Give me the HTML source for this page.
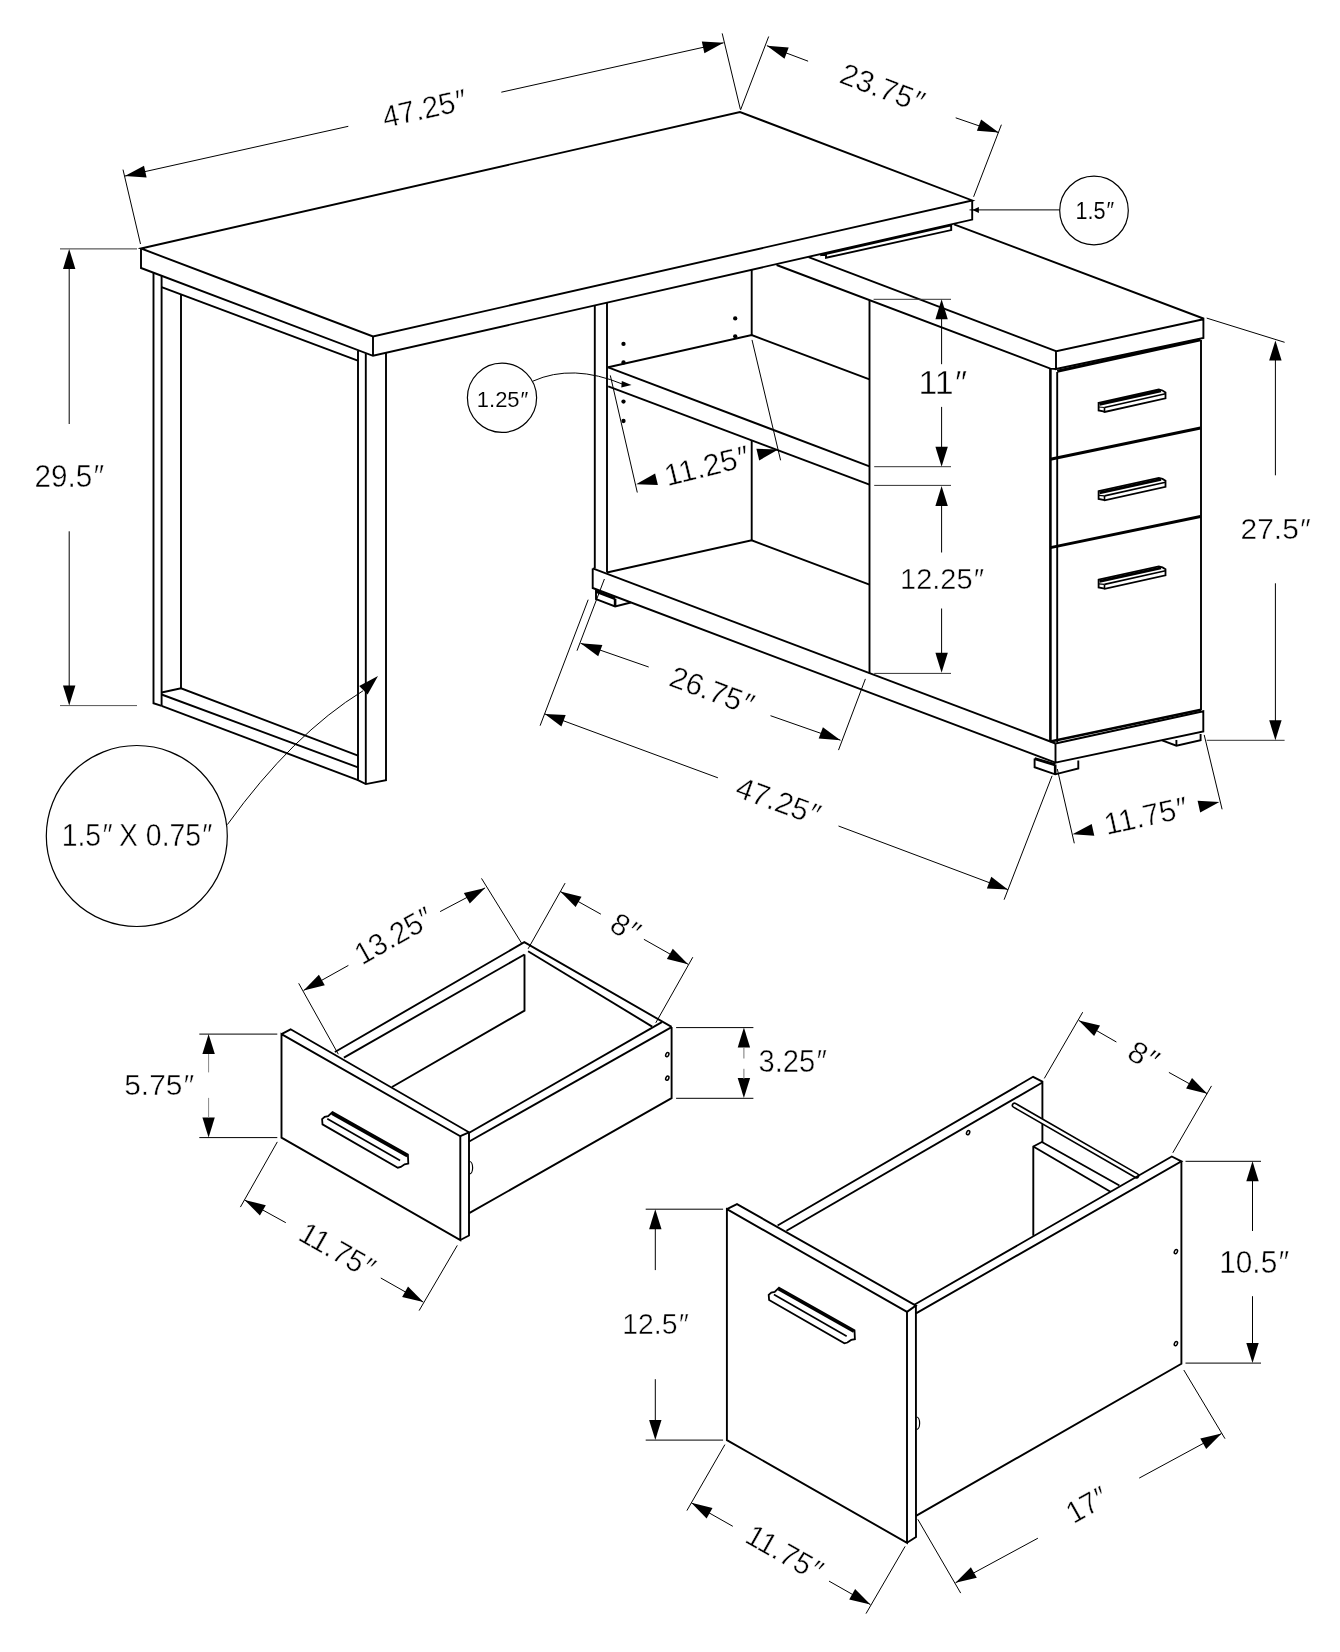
<!DOCTYPE html>
<html><head><meta charset="utf-8"><title>L-shaped desk dimensions</title>
<style>
html,body{margin:0;padding:0;background:#fff;}
body{width:1340px;height:1652px;overflow:hidden;}
svg{display:block;filter:grayscale(1);}
text{font-family:"Liberation Sans",sans-serif;fill:#000;stroke:#fff;stroke-width:0.45px;}
text.sm{stroke-width:0.1px;}
</style></head>
<body>
<svg width="1340" height="1652" viewBox="0 0 1340 1652">
<rect width="1340" height="1652" fill="#fff"/>
<polygon points="141,248.5 740,112 972.2,200.4 373,336.5" fill="none" stroke="#000" stroke-width="1.9" stroke-linejoin="miter"/>
<polyline points="141,248.5 141,268 373,355.8 972.2,219.6 972.2,200.4" fill="none" stroke="#000" stroke-width="1.9" stroke-linecap="butt" stroke-linejoin="miter"/>
<polyline points="373,336.5 373,355.8" fill="none" stroke="#000" stroke-width="1.9" stroke-linecap="butt" stroke-linejoin="miter"/>
<polyline points="153.5,272.7 153.5,703.2 161.6,705.8" fill="none" stroke="#000" stroke-width="1.9" stroke-linecap="butt" stroke-linejoin="miter"/>
<polyline points="161.6,275.8 161.6,705.8" fill="none" stroke="#000" stroke-width="1.9" stroke-linecap="butt" stroke-linejoin="miter"/>
<polyline points="181,294.3 181,688.3" fill="none" stroke="#000" stroke-width="1.9" stroke-linecap="butt" stroke-linejoin="miter"/>
<polyline points="161.6,287.2 357.8,360.6" fill="none" stroke="#000" stroke-width="1.9" stroke-linecap="butt" stroke-linejoin="miter"/>
<polyline points="358,351 358,780.2 365.8,784.1 386,780.2 386,352.8" fill="none" stroke="#000" stroke-width="1.9" stroke-linecap="butt" stroke-linejoin="miter"/>
<polyline points="365.8,353.5 365.8,784.1" fill="none" stroke="#000" stroke-width="1.9" stroke-linecap="butt" stroke-linejoin="miter"/>
<polyline points="161.6,692.5 181,688.3 358,755.6" fill="none" stroke="#000" stroke-width="1.9" stroke-linecap="butt" stroke-linejoin="miter"/>
<polyline points="161.6,694.5 358,767.4" fill="none" stroke="#000" stroke-width="1.9" stroke-linecap="butt" stroke-linejoin="miter"/>
<polyline points="161.6,705.8 358,780.2" fill="none" stroke="#000" stroke-width="1.9" stroke-linecap="butt" stroke-linejoin="miter"/>
<polyline points="60,248.9 137,248.9" fill="none" stroke="#333" stroke-width="1.0" stroke-linecap="butt" stroke-linejoin="miter"/>
<polyline points="60,705.6 137,705.6" fill="none" stroke="#555" stroke-width="1.0" stroke-linecap="butt" stroke-linejoin="miter"/>
<polyline points="69.2,266 69.2,424" fill="none" stroke="#000" stroke-width="1.0" stroke-linecap="butt" stroke-linejoin="miter"/>
<polygon points="69.2,248.9 75.4,268.9 63,268.9" fill="#000"/>
<polyline points="69.2,531.3 69.2,688" fill="none" stroke="#000" stroke-width="1.0" stroke-linecap="butt" stroke-linejoin="miter"/>
<polygon points="69.2,705.5 63,685.5 75.4,685.5" fill="#000"/>
<text x="68.7" y="487.4" font-size="31" text-anchor="middle" textLength="68.2" lengthAdjust="spacingAndGlyphs">29.5<tspan font-style="italic">″</tspan></text>
<polyline points="124.8,176.1 348.3,126.3" fill="none" stroke="#000" stroke-width="1.0" stroke-linecap="butt" stroke-linejoin="miter"/>
<polyline points="501.3,92.2 723.6,42.8" fill="none" stroke="#000" stroke-width="1.0" stroke-linecap="butt" stroke-linejoin="miter"/>
<polygon points="124.8,176.1 144,165.7 146.6,177.4" fill="#000"/>
<polygon points="723.6,42.8 704.4,53.2 701.8,41.5" fill="#000"/>
<polyline points="123,169.6 140.5,244" fill="none" stroke="#000" stroke-width="1.0" stroke-linecap="butt" stroke-linejoin="miter"/>
<polyline points="722.2,33.4 740.3,109" fill="none" stroke="#000" stroke-width="1.0" stroke-linecap="butt" stroke-linejoin="miter"/>
<text x="423.8" y="119" font-size="30.5" text-anchor="middle" textLength="84.3" lengthAdjust="spacingAndGlyphs" transform="rotate(-12.6 423.8 108.5)">47.25<tspan font-style="italic">″</tspan></text>
<polyline points="766.9,45.7 808.1,61.2" fill="none" stroke="#000" stroke-width="1.0" stroke-linecap="butt" stroke-linejoin="miter"/>
<polyline points="955.7,117.8 998.7,132.6" fill="none" stroke="#000" stroke-width="1.0" stroke-linecap="butt" stroke-linejoin="miter"/>
<polygon points="766.9,45.7 788.7,47.5 784.5,58.7" fill="#000"/>
<polygon points="998.7,132.6 976.9,130.8 981.1,119.6" fill="#000"/>
<polyline points="768.7,36.5 740.5,110" fill="none" stroke="#000" stroke-width="1.0" stroke-linecap="butt" stroke-linejoin="miter"/>
<polyline points="1001.4,124.7 973.6,196.8" fill="none" stroke="#000" stroke-width="1.0" stroke-linecap="butt" stroke-linejoin="miter"/>
<text x="882" y="98.2" font-size="30.5" text-anchor="middle" textLength="86.1" lengthAdjust="spacingAndGlyphs" transform="rotate(20.6 882 87.7)">23.75<tspan font-style="italic">″</tspan></text>
<circle cx="1094" cy="210.5" r="34.3" fill="none" stroke="#000" stroke-width="1.2"/>
<polyline points="1059.8,209.9 969.5,209.9" fill="none" stroke="#000" stroke-width="1.0" stroke-linecap="butt" stroke-linejoin="miter"/>
<polygon points="972.4,209.9 978.9,206.9 978.9,212.9" fill="#000"/>
<text class="sm" x="1094.3" y="219.1" font-size="24" text-anchor="middle" textLength="37.8" lengthAdjust="spacingAndGlyphs">1.5<tspan font-style="italic">″</tspan></text>
<circle cx="136.8" cy="836" r="90.5" fill="none" stroke="#000" stroke-width="1.2"/>
<text x="136.4" y="846" font-size="32" text-anchor="middle" textLength="149.4" lengthAdjust="spacingAndGlyphs">1.5<tspan font-style="italic">″</tspan> X 0.75<tspan font-style="italic">″</tspan></text>
<path d="M227.4,824.6 Q292.7,734.1 363,690.8" fill="none" stroke="#000" stroke-width="1.0"/>
<polygon points="378,675.9 367.6,694.5 359.2,686" fill="#000"/>
<polyline points="954,224.3 1203.4,318.5 1203.4,338 1056,369 1056,351.2 1203.4,319.2" fill="none" stroke="#000" stroke-width="1.9" stroke-linecap="butt" stroke-linejoin="miter"/>
<polyline points="808.6,257.2 1056,351.2" fill="none" stroke="#000" stroke-width="1.9" stroke-linecap="butt" stroke-linejoin="miter"/>
<polyline points="776.6,265 1050.4,368.6 1056,369" fill="none" stroke="#000" stroke-width="1.9" stroke-linecap="butt" stroke-linejoin="miter"/>
<polyline points="820.2,255.3 951.2,225.2 951.2,230.1 826,257.8 826,254.5" fill="none" stroke="#000" stroke-width="1.9" stroke-linecap="butt" stroke-linejoin="miter"/>
<polyline points="594.8,305.3 594.8,568.4" fill="none" stroke="#000" stroke-width="1.9" stroke-linecap="butt" stroke-linejoin="miter"/>
<polyline points="607,302.5 607,572.5" fill="none" stroke="#000" stroke-width="1.9" stroke-linecap="butt" stroke-linejoin="miter"/>
<polyline points="751.7,270 751.7,335.1" fill="none" stroke="#000" stroke-width="1.9" stroke-linecap="butt" stroke-linejoin="miter"/>
<polyline points="751.7,440 751.7,540.3" fill="none" stroke="#000" stroke-width="1.9" stroke-linecap="butt" stroke-linejoin="miter"/>
<polyline points="608.2,367.3 751.7,335.1 869.5,379.3" fill="none" stroke="#000" stroke-width="1.9" stroke-linecap="butt" stroke-linejoin="miter"/>
<polyline points="608.2,367.3 869.5,466.4" fill="none" stroke="#000" stroke-width="1.9" stroke-linecap="butt" stroke-linejoin="miter"/>
<polyline points="608.2,386.4 869.5,484.7" fill="none" stroke="#000" stroke-width="1.9" stroke-linecap="butt" stroke-linejoin="miter"/>
<polyline points="607,572.5 751.7,540.3 869.5,584.6" fill="none" stroke="#000" stroke-width="1.9" stroke-linecap="butt" stroke-linejoin="miter"/>
<polyline points="869.5,300.2 869.5,673.4" fill="none" stroke="#000" stroke-width="1.9" stroke-linecap="butt" stroke-linejoin="miter"/>
<polyline points="592.7,568.4 1055.5,743.5" fill="none" stroke="#000" stroke-width="1.9" stroke-linecap="butt" stroke-linejoin="miter"/>
<polyline points="592.7,568.4 592.7,588 1055.5,762.7" fill="none" stroke="#000" stroke-width="1.9" stroke-linecap="butt" stroke-linejoin="miter"/>
<polyline points="596,589.3 596,599.2 615.1,606.5 630.8,602.5" fill="none" stroke="#000" stroke-width="1.9" stroke-linecap="butt" stroke-linejoin="miter"/>
<polyline points="615.1,598.6 615.1,606.5" fill="none" stroke="#000" stroke-width="2.6" stroke-linecap="butt" stroke-linejoin="miter"/>
<polyline points="596,591.3 615.1,598.6" fill="none" stroke="#000" stroke-width="3" stroke-linecap="butt" stroke-linejoin="miter"/>
<circle cx="623.5" cy="343.9" r="2.15" fill="#000"/>
<circle cx="623.5" cy="362.5" r="2.15" fill="#000"/>
<circle cx="735.2" cy="318.4" r="2.15" fill="#000"/>
<circle cx="735.2" cy="336.3" r="2.15" fill="#000"/>
<circle cx="623.5" cy="401.6" r="2.15" fill="#000"/>
<circle cx="623.5" cy="421" r="2.15" fill="#000"/>
<polyline points="1050.4,369 1050.4,741.8" fill="none" stroke="#000" stroke-width="2.6" stroke-linecap="butt" stroke-linejoin="miter"/>
<polyline points="1057.2,372 1057.2,742" fill="none" stroke="#000" stroke-width="1.9" stroke-linecap="butt" stroke-linejoin="miter"/>
<polyline points="1201,340 1201,710" fill="none" stroke="#000" stroke-width="1.9" stroke-linecap="butt" stroke-linejoin="miter"/>
<polyline points="1057.2,371.3 1200.5,339.8" fill="none" stroke="#000" stroke-width="3" stroke-linecap="butt" stroke-linejoin="miter"/>
<polyline points="1050.4,459.3 1200.5,428" fill="none" stroke="#000" stroke-width="3" stroke-linecap="butt" stroke-linejoin="miter"/>
<polyline points="1050.4,547.6 1200.5,516.5" fill="none" stroke="#000" stroke-width="3" stroke-linecap="butt" stroke-linejoin="miter"/>
<polyline points="1050.4,741.6 1201,709.8" fill="none" stroke="#000" stroke-width="2.6" stroke-linecap="butt" stroke-linejoin="miter"/>
<polyline points="1055.5,743.5 1203.3,711.3 1203.3,731.5 1055.5,762.7 1055.5,743.5" fill="none" stroke="#000" stroke-width="1.9" stroke-linecap="butt" stroke-linejoin="miter"/>
<polyline points="1034.6,758.4 1034.6,767.2 1055.2,774.3 1078.3,768.5 1078.3,760.5" fill="none" stroke="#000" stroke-width="1.9" stroke-linecap="butt" stroke-linejoin="miter"/>
<polyline points="1055.2,764.5 1055.2,774.3" fill="none" stroke="#000" stroke-width="2.6" stroke-linecap="butt" stroke-linejoin="miter"/>
<polyline points="1034.6,758.6 1055.2,764.8" fill="none" stroke="#000" stroke-width="3" stroke-linecap="butt" stroke-linejoin="miter"/>
<polyline points="1162.1,740.3 1176.4,745.7 1200.6,740.3 1200.6,734" fill="none" stroke="#000" stroke-width="1.9" stroke-linecap="butt" stroke-linejoin="miter"/>
<polyline points="1176.4,740 1176.4,745.7" fill="none" stroke="#000" stroke-width="1.9" stroke-linecap="butt" stroke-linejoin="miter"/>
<polygon points="1098.6,402.8 1158.8,389.5 1162.5,390.5 1165.5,392.4 1165.5,398.4 1104.6,412 1103.3,411.4 1098.6,410.5" fill="none" stroke="#000" stroke-width="1.8" stroke-linejoin="miter"/>
<polyline points="1099.5,404.4 1161,390.9" fill="none" stroke="#000" stroke-width="2.8" stroke-linecap="butt" stroke-linejoin="miter"/>
<polyline points="1104.5,407.5 1165.5,393.8" fill="none" stroke="#000" stroke-width="1.6" stroke-linecap="butt" stroke-linejoin="miter"/>
<polyline points="1104.5,407.5 1104.5,412" fill="none" stroke="#000" stroke-width="1.6" stroke-linecap="butt" stroke-linejoin="miter"/>
<polyline points="1098.6,407 1104.5,407.5" fill="none" stroke="#000" stroke-width="1.2" stroke-linecap="butt" stroke-linejoin="miter"/>
<polygon points="1098.6,491.2 1158.8,477.9 1162.5,478.9 1165.5,480.8 1165.5,486.8 1104.6,500.4 1103.3,499.8 1098.6,498.9" fill="none" stroke="#000" stroke-width="1.8" stroke-linejoin="miter"/>
<polyline points="1099.5,492.8 1161,479.3" fill="none" stroke="#000" stroke-width="2.8" stroke-linecap="butt" stroke-linejoin="miter"/>
<polyline points="1104.5,495.9 1165.5,482.2" fill="none" stroke="#000" stroke-width="1.6" stroke-linecap="butt" stroke-linejoin="miter"/>
<polyline points="1104.5,495.9 1104.5,500.4" fill="none" stroke="#000" stroke-width="1.6" stroke-linecap="butt" stroke-linejoin="miter"/>
<polyline points="1098.6,495.4 1104.5,495.9" fill="none" stroke="#000" stroke-width="1.2" stroke-linecap="butt" stroke-linejoin="miter"/>
<polygon points="1098.6,579.7 1158.8,566.4 1162.5,567.4 1165.5,569.3 1165.5,575.3 1104.6,588.9 1103.3,588.3 1098.6,587.4" fill="none" stroke="#000" stroke-width="1.8" stroke-linejoin="miter"/>
<polyline points="1099.5,581.3 1161,567.8" fill="none" stroke="#000" stroke-width="2.8" stroke-linecap="butt" stroke-linejoin="miter"/>
<polyline points="1104.5,584.4 1165.5,570.7" fill="none" stroke="#000" stroke-width="1.6" stroke-linecap="butt" stroke-linejoin="miter"/>
<polyline points="1104.5,584.4 1104.5,588.9" fill="none" stroke="#000" stroke-width="1.6" stroke-linecap="butt" stroke-linejoin="miter"/>
<polyline points="1098.6,583.9 1104.5,584.4" fill="none" stroke="#000" stroke-width="1.2" stroke-linecap="butt" stroke-linejoin="miter"/>
<polyline points="873.6,299.3 951,299.3" fill="none" stroke="#333" stroke-width="1.0" stroke-linecap="butt" stroke-linejoin="miter"/>
<polyline points="874.2,466.7 951,466.7" fill="none" stroke="#333" stroke-width="1.0" stroke-linecap="butt" stroke-linejoin="miter"/>
<polyline points="941.6,315 941.6,364.2" fill="none" stroke="#000" stroke-width="1.0" stroke-linecap="butt" stroke-linejoin="miter"/>
<polygon points="941.6,299.3 947.8,319.3 935.4,319.3" fill="#000"/>
<polyline points="941.6,406.9 941.6,450" fill="none" stroke="#000" stroke-width="1.0" stroke-linecap="butt" stroke-linejoin="miter"/>
<polygon points="941.6,466.7 935.4,446.7 947.8,446.7" fill="#000"/>
<text x="942" y="393.6" font-size="32.4" text-anchor="middle" textLength="47.2" lengthAdjust="spacingAndGlyphs">11<tspan font-style="italic">″</tspan></text>
<polyline points="874.2,485.4 951,485.4" fill="none" stroke="#333" stroke-width="1.0" stroke-linecap="butt" stroke-linejoin="miter"/>
<polyline points="874.2,673.4 951,673.4" fill="none" stroke="#333" stroke-width="1.0" stroke-linecap="butt" stroke-linejoin="miter"/>
<polyline points="941.6,500 941.6,552.5" fill="none" stroke="#000" stroke-width="1.0" stroke-linecap="butt" stroke-linejoin="miter"/>
<polygon points="941.6,486.1 947.8,506.1 935.4,506.1" fill="#000"/>
<polyline points="941.6,608.5 941.6,658" fill="none" stroke="#000" stroke-width="1.0" stroke-linecap="butt" stroke-linejoin="miter"/>
<polygon points="941.6,672.7 935.4,652.7 947.8,652.7" fill="#000"/>
<text x="941.4" y="588.8" font-size="30.4" text-anchor="middle" textLength="82.7" lengthAdjust="spacingAndGlyphs">12.25<tspan font-style="italic">″</tspan></text>
<polyline points="1206.7,318.1 1284.6,342.3" fill="none" stroke="#000" stroke-width="1.0" stroke-linecap="butt" stroke-linejoin="miter"/>
<polyline points="1206.7,740.3 1284.6,740.3" fill="none" stroke="#333" stroke-width="1.0" stroke-linecap="butt" stroke-linejoin="miter"/>
<polyline points="1275.4,355 1275.4,475.3" fill="none" stroke="#000" stroke-width="1.0" stroke-linecap="butt" stroke-linejoin="miter"/>
<polygon points="1275.4,340.4 1281.6,360.4 1269.2,360.4" fill="#000"/>
<polyline points="1275.4,583.3 1275.4,725" fill="none" stroke="#000" stroke-width="1.0" stroke-linecap="butt" stroke-linejoin="miter"/>
<polygon points="1275.4,740.3 1269.2,720.3 1281.6,720.3" fill="#000"/>
<text x="1275" y="539.4" font-size="30.4" text-anchor="middle" textLength="68.8" lengthAdjust="spacingAndGlyphs">27.5<tspan font-style="italic">″</tspan></text>
<polyline points="610.3,375.4 637.3,492.5" fill="none" stroke="#000" stroke-width="1.0" stroke-linecap="butt" stroke-linejoin="miter"/>
<polyline points="752,339.9 780.6,460.3" fill="none" stroke="#000" stroke-width="1.0" stroke-linecap="butt" stroke-linejoin="miter"/>
<polygon points="636.1,484.2 655.1,473.4 657.9,485.1" fill="#000"/>
<polygon points="778.2,449.6 759.2,460.4 756.4,448.7" fill="#000"/>
<text x="706" y="476.4" font-size="30.5" text-anchor="middle" textLength="84.8" lengthAdjust="spacingAndGlyphs" transform="rotate(-13.7 706 465.9)">11.25<tspan font-style="italic">″</tspan></text>
<polyline points="580.6,643.3 648.7,667" fill="none" stroke="#000" stroke-width="1.0" stroke-linecap="butt" stroke-linejoin="miter"/>
<polyline points="770.5,715.7 840.5,740.2" fill="none" stroke="#000" stroke-width="1.0" stroke-linecap="butt" stroke-linejoin="miter"/>
<polygon points="580.6,643.3 602.4,645 598.2,656.3" fill="#000"/>
<polygon points="840.5,740.2 818.7,738.5 822.9,727.2" fill="#000"/>
<polyline points="604.4,579 577,650.7" fill="none" stroke="#000" stroke-width="1.0" stroke-linecap="butt" stroke-linejoin="miter"/>
<polyline points="865.4,678.9 838.5,750.1" fill="none" stroke="#000" stroke-width="1.0" stroke-linecap="butt" stroke-linejoin="miter"/>
<text x="711.4" y="700.8" font-size="30.5" text-anchor="middle" textLength="85.9" lengthAdjust="spacingAndGlyphs" transform="rotate(20.4 711.4 690.3)">26.75<tspan font-style="italic">″</tspan></text>
<polyline points="544.8,713.9 717.9,777.8" fill="none" stroke="#000" stroke-width="1.0" stroke-linecap="butt" stroke-linejoin="miter"/>
<polyline points="838.5,826 1007.8,889.6" fill="none" stroke="#000" stroke-width="1.0" stroke-linecap="butt" stroke-linejoin="miter"/>
<polygon points="544.8,713.9 565.7,715 561.4,726.6" fill="#000"/>
<polygon points="1007.8,889.6 986.9,888.4 991.3,876.8" fill="#000"/>
<polyline points="588.2,599.7 540.1,725.7" fill="none" stroke="#000" stroke-width="1.0" stroke-linecap="butt" stroke-linejoin="miter"/>
<polyline points="1052.1,775.8 1004.1,899.7" fill="none" stroke="#000" stroke-width="1.0" stroke-linecap="butt" stroke-linejoin="miter"/>
<text x="777.8" y="811.3" font-size="30.5" text-anchor="middle" textLength="86.1" lengthAdjust="spacingAndGlyphs" transform="rotate(20 777.8 800.8)">47.25<tspan font-style="italic">″</tspan></text>
<polyline points="1057.3,769 1074.3,843.3" fill="none" stroke="#000" stroke-width="1.0" stroke-linecap="butt" stroke-linejoin="miter"/>
<polyline points="1204.2,734.9 1222.1,809.3" fill="none" stroke="#000" stroke-width="1.0" stroke-linecap="butt" stroke-linejoin="miter"/>
<polygon points="1072.5,834.3 1091.7,823.9 1094.3,835.7" fill="#000"/>
<polygon points="1219.4,802.1 1200.2,812.5 1197.6,800.7" fill="#000"/>
<text x="1145.3" y="826.3" font-size="30.5" text-anchor="middle" textLength="83.3" lengthAdjust="spacingAndGlyphs" transform="rotate(-12.4 1145.3 815.8)">11.75<tspan font-style="italic">″</tspan></text>
<circle cx="502" cy="397.8" r="34.6" fill="none" stroke="#000" stroke-width="1.2"/>
<text class="sm" x="502.1" y="406.5" font-size="22.7" text-anchor="middle" textLength="50.6" lengthAdjust="spacingAndGlyphs">1.25<tspan font-style="italic">″</tspan></text>
<path d="M533,381.1 Q572.5,363.3 623,384.3" fill="none" stroke="#000" stroke-width="1.0"/>
<polygon points="631.5,385.1 621.3,387.5 621.8,381.1" fill="#000"/>
<polygon points="281.5,1034.1 460.3,1136.2 460.3,1240 281.5,1137.6" fill="none" stroke="#000" stroke-width="1.9" stroke-linejoin="miter"/>
<polyline points="281.5,1034.1 290.6,1029.3 469,1132.3 460.3,1136.2" fill="none" stroke="#000" stroke-width="1.9" stroke-linecap="butt" stroke-linejoin="miter"/>
<polyline points="469,1132.3 469,1235.5 460.3,1240" fill="none" stroke="#000" stroke-width="1.9" stroke-linecap="butt" stroke-linejoin="miter"/>
<polyline points="334.9,1052 524.3,942.2 671.6,1026.9" fill="none" stroke="#000" stroke-width="1.9" stroke-linecap="butt" stroke-linejoin="miter"/>
<polyline points="343.9,1057.6 524.5,954.5" fill="none" stroke="#000" stroke-width="1.9" stroke-linecap="butt" stroke-linejoin="miter"/>
<polyline points="524.5,954.5 524.5,1010.6 392,1087" fill="none" stroke="#000" stroke-width="1.9" stroke-linecap="butt" stroke-linejoin="miter"/>
<polyline points="528.1,951.2 652.2,1026.6" fill="none" stroke="#000" stroke-width="1.9" stroke-linecap="butt" stroke-linejoin="miter"/>
<polyline points="661.9,1022.1 469.2,1132.8" fill="none" stroke="#000" stroke-width="1.9" stroke-linecap="butt" stroke-linejoin="miter"/>
<polyline points="671.6,1027.2 469.2,1141.5" fill="none" stroke="#000" stroke-width="1.9" stroke-linecap="butt" stroke-linejoin="miter"/>
<polyline points="671.6,1026.9 671.6,1098.1 469.2,1213.2" fill="none" stroke="#000" stroke-width="1.9" stroke-linecap="butt" stroke-linejoin="miter"/>
<ellipse cx="667.3" cy="1054.6" rx="1.45" ry="2.2" fill="none" stroke="#000" stroke-width="1.5" transform="rotate(25 667.3 1054.6)"/>
<ellipse cx="667.3" cy="1078.2" rx="1.45" ry="2.2" fill="none" stroke="#000" stroke-width="1.5" transform="rotate(25 667.3 1078.2)"/>
<path d="M469.5,1161.5 A3,6 0 0 1 469.5,1174" fill="none" stroke="#000" stroke-width="1.2"/>
<polygon points="332.5,1112.1 407.9,1154.6 408.3,1163.6 404.6,1164.3 400.8,1166.9 397.8,1167.7 322.5,1124.4 322.1,1119.2 324.7,1116.9 328.1,1116.2" fill="none" stroke="#000" stroke-width="1.8" stroke-linejoin="miter"/>
<polyline points="327.3,1118.8 400.1,1160.6 400.1,1160.6" fill="none" stroke="#000" stroke-width="1.7" stroke-linecap="butt" stroke-linejoin="miter"/>
<polyline points="331.8,1113.6 407.2,1156.1" fill="none" stroke="#000" stroke-width="2.6" stroke-linecap="butt" stroke-linejoin="miter"/>
<polyline points="303.6,990.4 348.4,965.4" fill="none" stroke="#000" stroke-width="1.0" stroke-linecap="butt" stroke-linejoin="miter"/>
<polyline points="440.1,911.6 485.1,887.9" fill="none" stroke="#000" stroke-width="1.0" stroke-linecap="butt" stroke-linejoin="miter"/>
<polygon points="303.6,990.4 318.9,974.8 324.8,985.3" fill="#000"/>
<polygon points="485.1,887.9 469.8,903.5 463.9,893" fill="#000"/>
<polyline points="298.7,983.3 338.3,1054.2" fill="none" stroke="#000" stroke-width="1.0" stroke-linecap="butt" stroke-linejoin="miter"/>
<polyline points="481.5,878.4 522.1,944" fill="none" stroke="#000" stroke-width="1.0" stroke-linecap="butt" stroke-linejoin="miter"/>
<text x="393.1" y="946.4" font-size="30.5" text-anchor="middle" textLength="83.4" lengthAdjust="spacingAndGlyphs" transform="rotate(-29.4 393.1 935.9)">13.25<tspan font-style="italic">″</tspan></text>
<polyline points="560.3,891.5 600.9,914.2" fill="none" stroke="#000" stroke-width="1.0" stroke-linecap="butt" stroke-linejoin="miter"/>
<polyline points="643.9,939.3 688.1,964.3" fill="none" stroke="#000" stroke-width="1.0" stroke-linecap="butt" stroke-linejoin="miter"/>
<polygon points="560.3,891.5 581.5,896.7 575.6,907.1" fill="#000"/>
<polygon points="688.1,964.3 666.9,959.1 672.8,948.7" fill="#000"/>
<polyline points="565.1,883.1 528.1,948.8" fill="none" stroke="#000" stroke-width="1.0" stroke-linecap="butt" stroke-linejoin="miter"/>
<polyline points="692.8,957.2 655.8,1022.8" fill="none" stroke="#000" stroke-width="1.0" stroke-linecap="butt" stroke-linejoin="miter"/>
<text x="625" y="937.9" font-size="30.5" text-anchor="middle" textLength="27.4" lengthAdjust="spacingAndGlyphs" transform="rotate(29.7 625 927.4)">8<tspan font-style="italic">″</tspan></text>
<polyline points="676.1,1027.6 753.4,1027.6" fill="none" stroke="#000" stroke-width="1.0" stroke-linecap="butt" stroke-linejoin="miter"/>
<polyline points="676.1,1098.3 753.4,1098.3" fill="none" stroke="#000" stroke-width="1.0" stroke-linecap="butt" stroke-linejoin="miter"/>
<polygon points="743.9,1027.6 750.1,1047.6 737.7,1047.6" fill="#000"/>
<polygon points="743.9,1097.9 737.7,1077.9 750.1,1077.9" fill="#000"/>
<polyline points="743.9,1047 743.9,1058.5" fill="none" stroke="#777" stroke-width="1.0" stroke-linecap="butt" stroke-linejoin="miter"/>
<polyline points="743.9,1068.8 743.9,1079" fill="none" stroke="#777" stroke-width="1.0" stroke-linecap="butt" stroke-linejoin="miter"/>
<text x="792" y="1072.1" font-size="31.3" text-anchor="middle" textLength="66.9" lengthAdjust="spacingAndGlyphs">3.25<tspan font-style="italic">″</tspan></text>
<polyline points="199.3,1034.1 277.3,1034.1" fill="none" stroke="#000" stroke-width="1.0" stroke-linecap="butt" stroke-linejoin="miter"/>
<polyline points="199.3,1137.6 277.3,1137.6" fill="none" stroke="#000" stroke-width="1.0" stroke-linecap="butt" stroke-linejoin="miter"/>
<polygon points="208.6,1034.1 214.8,1054.1 202.4,1054.1" fill="#000"/>
<polygon points="208.6,1137.6 202.4,1117.6 214.8,1117.6" fill="#000"/>
<polyline points="208.6,1054 208.6,1072.4" fill="none" stroke="#888" stroke-width="1.0" stroke-linecap="butt" stroke-linejoin="miter"/>
<polyline points="208.6,1097.9 208.6,1118" fill="none" stroke="#888" stroke-width="1.0" stroke-linecap="butt" stroke-linejoin="miter"/>
<text x="158.6" y="1095" font-size="29.7" text-anchor="middle" textLength="68.7" lengthAdjust="spacingAndGlyphs">5.75<tspan font-style="italic">″</tspan></text>
<polyline points="244.6,1200 285.8,1222.7" fill="none" stroke="#000" stroke-width="1.0" stroke-linecap="butt" stroke-linejoin="miter"/>
<polyline points="380.8,1278 423.3,1302.1" fill="none" stroke="#000" stroke-width="1.0" stroke-linecap="butt" stroke-linejoin="miter"/>
<polygon points="244.6,1200 265.8,1205.2 259.9,1215.6" fill="#000"/>
<polygon points="423.3,1302.1 402.1,1296.9 408,1286.5" fill="#000"/>
<polyline points="277.3,1141.9 240.4,1207.1" fill="none" stroke="#000" stroke-width="1.0" stroke-linecap="butt" stroke-linejoin="miter"/>
<polyline points="457.3,1245.4 419.1,1310.6" fill="none" stroke="#000" stroke-width="1.0" stroke-linecap="butt" stroke-linejoin="miter"/>
<text x="336.8" y="1260.5" font-size="30.5" text-anchor="middle" textLength="80.4" lengthAdjust="spacingAndGlyphs" transform="rotate(29.7 336.8 1250)">11.75<tspan font-style="italic">″</tspan></text>
<polygon points="726.9,1209.2 907,1311.9 907,1542.8 726.9,1440.1" fill="none" stroke="#000" stroke-width="1.9" stroke-linejoin="miter"/>
<polyline points="726.9,1209.2 737,1204.1 915.9,1305.6 907,1311.9" fill="none" stroke="#000" stroke-width="1.9" stroke-linecap="butt" stroke-linejoin="miter"/>
<polyline points="915.9,1305.6 916,1537 907,1542.8" fill="none" stroke="#000" stroke-width="1.9" stroke-linecap="butt" stroke-linejoin="miter"/>
<polyline points="777.6,1225.5 1033.1,1076.8 1042.4,1081.6 1042.4,1142" fill="none" stroke="#000" stroke-width="1.9" stroke-linecap="butt" stroke-linejoin="miter"/>
<polyline points="786.5,1230.7 1042.4,1082.5" fill="none" stroke="#000" stroke-width="1.9" stroke-linecap="butt" stroke-linejoin="miter"/>
<polyline points="1033.3,1235.7 1033.3,1146.5 1041.9,1142 1119.4,1185.5" fill="none" stroke="#000" stroke-width="1.9" stroke-linecap="butt" stroke-linejoin="miter"/>
<polyline points="1033.3,1146.5 1110.5,1191.8" fill="none" stroke="#000" stroke-width="1.9" stroke-linecap="butt" stroke-linejoin="miter"/>
<polyline points="1014.5,1105.3 1136.5,1175.7" fill="none" stroke="#000" stroke-width="5.8" stroke-linecap="round" stroke-linejoin="miter"/>
<polyline points="1014.5,1105.3 1136.5,1175.7" fill="none" stroke="#fff" stroke-width="2.6" stroke-linecap="round" stroke-linejoin="miter"/>
<polyline points="914.3,1304.8 1171.8,1156.5 1181.4,1161.3 916,1313.4" fill="none" stroke="#000" stroke-width="1.9" stroke-linecap="butt" stroke-linejoin="miter"/>
<polyline points="1181.4,1161.3 1181.4,1363.8 916,1515.9" fill="none" stroke="#000" stroke-width="1.9" stroke-linecap="butt" stroke-linejoin="miter"/>
<ellipse cx="1175.9" cy="1251.6" rx="1.45" ry="2.2" fill="none" stroke="#000" stroke-width="1.5" transform="rotate(25 1175.9 1251.6)"/>
<ellipse cx="1175.9" cy="1343.6" rx="1.45" ry="2.2" fill="none" stroke="#000" stroke-width="1.5" transform="rotate(25 1175.9 1343.6)"/>
<ellipse cx="968.1" cy="1132.7" rx="1.45" ry="2.2" fill="none" stroke="#000" stroke-width="1.5" transform="rotate(25 968.1 1132.7)"/>
<path d="M916.5,1417 A3,6 0 0 1 916.5,1429.5" fill="none" stroke="#000" stroke-width="1.2"/>
<polygon points="779.1,1287.7 854.5,1330.2 854.9,1339.2 851.2,1339.9 847.4,1342.5 844.4,1343.3 769.1,1300 768.7,1294.8 771.3,1292.5 774.7,1291.8" fill="none" stroke="#000" stroke-width="1.8" stroke-linejoin="miter"/>
<polyline points="773.9,1294.4 846.7,1336.2 846.7,1336.2" fill="none" stroke="#000" stroke-width="1.7" stroke-linecap="butt" stroke-linejoin="miter"/>
<polyline points="778.4,1289.2 853.8,1331.7" fill="none" stroke="#000" stroke-width="2.6" stroke-linecap="butt" stroke-linejoin="miter"/>
<polyline points="645.7,1209.2 723.1,1209.2" fill="none" stroke="#000" stroke-width="1.0" stroke-linecap="butt" stroke-linejoin="miter"/>
<polyline points="645.7,1440.1 723.1,1440.1" fill="none" stroke="#000" stroke-width="1.0" stroke-linecap="butt" stroke-linejoin="miter"/>
<polyline points="655.3,1225 655.3,1270.1" fill="none" stroke="#000" stroke-width="1.0" stroke-linecap="butt" stroke-linejoin="miter"/>
<polygon points="655.3,1209.2 661.5,1229.2 649.1,1229.2" fill="#000"/>
<polyline points="655.3,1379.2 655.3,1425" fill="none" stroke="#000" stroke-width="1.0" stroke-linecap="butt" stroke-linejoin="miter"/>
<polygon points="655.3,1440.1 649.1,1420.1 661.5,1420.1" fill="#000"/>
<text x="654.9" y="1333.5" font-size="28.8" text-anchor="middle" textLength="65.2" lengthAdjust="spacingAndGlyphs">12.5<tspan font-style="italic">″</tspan></text>
<polyline points="1185.5,1161.3 1261,1161.3" fill="none" stroke="#000" stroke-width="1.0" stroke-linecap="butt" stroke-linejoin="miter"/>
<polyline points="1185.5,1363.1 1261,1363.1" fill="none" stroke="#000" stroke-width="1.0" stroke-linecap="butt" stroke-linejoin="miter"/>
<polyline points="1252.5,1175 1252.5,1231" fill="none" stroke="#000" stroke-width="1.0" stroke-linecap="butt" stroke-linejoin="miter"/>
<polygon points="1252.5,1161.3 1258.7,1181.3 1246.3,1181.3" fill="#000"/>
<polyline points="1252.5,1296.2 1252.5,1348" fill="none" stroke="#000" stroke-width="1.0" stroke-linecap="butt" stroke-linejoin="miter"/>
<polygon points="1252.5,1363.1 1246.3,1343.1 1258.7,1343.1" fill="#000"/>
<text x="1253.5" y="1272.6" font-size="31.5" text-anchor="middle" textLength="68.5" lengthAdjust="spacingAndGlyphs">10.5<tspan font-style="italic">″</tspan></text>
<polyline points="1078.8,1020.4 1116.4,1042" fill="none" stroke="#000" stroke-width="1.0" stroke-linecap="butt" stroke-linejoin="miter"/>
<polyline points="1168.9,1072.4 1207.3,1093.7" fill="none" stroke="#000" stroke-width="1.0" stroke-linecap="butt" stroke-linejoin="miter"/>
<polygon points="1078.8,1020.4 1100,1025.6 1094.1,1036" fill="#000"/>
<polygon points="1207.3,1093.7 1186.1,1088.5 1192,1078.1" fill="#000"/>
<polyline points="1082.7,1012.2 1044.3,1078.4" fill="none" stroke="#000" stroke-width="1.0" stroke-linecap="butt" stroke-linejoin="miter"/>
<polyline points="1211.5,1085.9 1172.8,1152.8" fill="none" stroke="#000" stroke-width="1.0" stroke-linecap="butt" stroke-linejoin="miter"/>
<text x="1143.2" y="1066" font-size="30.5" text-anchor="middle" textLength="28.5" lengthAdjust="spacingAndGlyphs" transform="rotate(29.3 1143.2 1055.5)">8<tspan font-style="italic">″</tspan></text>
<polyline points="955.5,1582.8 1037.9,1538.2" fill="none" stroke="#000" stroke-width="1.0" stroke-linecap="butt" stroke-linejoin="miter"/>
<polyline points="1139.2,1478.1 1221.6,1433.5" fill="none" stroke="#000" stroke-width="1.0" stroke-linecap="butt" stroke-linejoin="miter"/>
<polygon points="955.5,1582.8 970.9,1567.3 976.8,1577.8" fill="#000"/>
<polygon points="1221.6,1433.5 1206.2,1449 1200.3,1438.5" fill="#000"/>
<polyline points="917.8,1519.3 960.7,1593.1" fill="none" stroke="#000" stroke-width="1.0" stroke-linecap="butt" stroke-linejoin="miter"/>
<polyline points="1183.8,1370 1225,1438.7" fill="none" stroke="#000" stroke-width="1.0" stroke-linecap="butt" stroke-linejoin="miter"/>
<text x="1086.5" y="1515.5" font-size="30.5" text-anchor="middle" textLength="41.4" lengthAdjust="spacingAndGlyphs" transform="rotate(-29.3 1086.5 1505)">17<tspan font-style="italic">″</tspan></text>
<polyline points="691.3,1502.8 732.8,1526.3" fill="none" stroke="#000" stroke-width="1.0" stroke-linecap="butt" stroke-linejoin="miter"/>
<polyline points="829,1581.1 870.4,1604.6" fill="none" stroke="#000" stroke-width="1.0" stroke-linecap="butt" stroke-linejoin="miter"/>
<polygon points="691.3,1502.8 712.5,1508 706.6,1518.4" fill="#000"/>
<polygon points="870.4,1604.6 849.2,1599.4 855.1,1589" fill="#000"/>
<polyline points="724.9,1444.6 686.9,1510.6" fill="none" stroke="#000" stroke-width="1.0" stroke-linecap="butt" stroke-linejoin="miter"/>
<polyline points="905.1,1546.4 866,1613.6" fill="none" stroke="#000" stroke-width="1.0" stroke-linecap="butt" stroke-linejoin="miter"/>
<text x="784.1" y="1563" font-size="30.5" text-anchor="middle" textLength="81.2" lengthAdjust="spacingAndGlyphs" transform="rotate(29.6 784.1 1552.5)">11.75<tspan font-style="italic">″</tspan></text>
</svg>
</body></html>
